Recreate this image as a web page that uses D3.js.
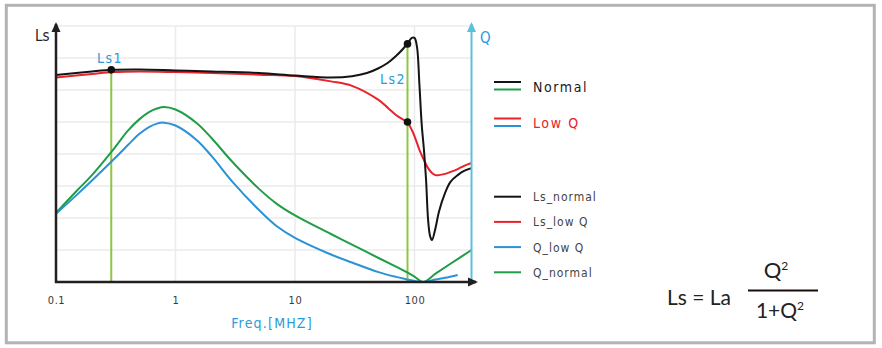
<!DOCTYPE html>
<html>
<head>
<meta charset="utf-8">
<script src="https://cdn.jsdelivr.net/npm/d3@7"></script>
<style>
  body { margin: 0; background: #fff; }
  svg { display: block; }
</style>
</head>
<body>
<div id="chart"></div>
<script>
// donnees (frequence en MHz, valeur en unites arbitraires)
const freqTicks = [0.1, 1, 10, 100];

const lsNormalFreq = [0.1, 0.2, 0.3, 0.5, 1, 2, 5, 10, 20, 30, 40, 50, 60, 70, 80, 87, 95, 100, 105, 110, 115, 120, 125, 130, 135, 140, 150, 160, 180, 200, 230, 260, 300];
const lsNormal     = [6.47, 6.58, 6.63, 6.64, 6.61, 6.58, 6.53, 6.45, 6.39, 6.43, 6.53, 6.68, 6.85, 7.06, 7.28, 7.44, 7.63, 7.63, 7.34, 6.16, 4.91, 4.13, 3.19, 1.94, 1.44, 1.31, 1.69, 2.19, 2.78, 3.13, 3.34, 3.47, 3.56];

const lsLowQFreq = [0.1, 0.2, 0.3, 0.5, 1, 2, 5, 10, 20, 30, 50, 60, 70, 80, 87, 95, 100, 110, 120, 130, 140, 150, 160, 180, 200, 230, 260, 300];
const lsLowQ     = [6.39, 6.5, 6.56, 6.58, 6.56, 6.53, 6.48, 6.44, 6.27, 6.13, 5.69, 5.44, 5.22, 5.08, 5.0, 4.75, 4.56, 4.13, 3.81, 3.56, 3.41, 3.34, 3.34, 3.38, 3.44, 3.53, 3.63, 3.72];

const qNormalFreq = [0.1, 0.15, 0.2, 0.3, 0.4, 0.5, 0.6, 0.7, 0.8, 1, 1.5, 2, 3, 5, 7, 10, 20, 30, 50, 70, 87, 100, 118, 150, 200, 300];
const qNormal     = [2.16, 2.86, 3.34, 4.13, 4.73, 5.09, 5.31, 5.42, 5.47, 5.39, 4.97, 4.5, 3.75, 2.91, 2.45, 2.08, 1.5, 1.17, 0.75, 0.48, 0.3, 0.17, 0.0, 0.26, 0.57, 1.0];

const qLowQFreq = [0.1, 0.15, 0.2, 0.3, 0.4, 0.5, 0.6, 0.7, 0.8, 1, 1.5, 2, 3, 5, 7, 10, 20, 30, 50, 70, 87, 100, 120, 150, 180, 230];
const qLowQ     = [2.13, 2.73, 3.17, 3.81, 4.28, 4.63, 4.84, 4.95, 4.98, 4.89, 4.44, 3.94, 3.13, 2.25, 1.75, 1.38, 0.86, 0.61, 0.31, 0.16, 0.08, 0.03, 0.0, 0.075, 0.13, 0.22];

// points Ls1 / Ls2
const markerNames = ["Ls1", "Ls2"];
const markerFreq  = [0.29, 87.4];
const markerTop   = [6.63, 7.44];
const dotFreq  = [0.29, 87.4, 87.4];
const dotValue = [6.63, 7.44, 5.0];

const legendTop    = ["Normal", "Low Q"];
const legendBottom = ["Ls_normal", "Ls_low Q", "Q_low Q", "Q_normal"];

const W = 882, H = 348;
const col = {
  black: "#141414", red: "#e8232b", blue: "#2a93d6", green: "#1f9e47",
  marker: "#8dc641", qaxis: "#5cc0dc", grid: "#ebebeb", text: "#3a3a3a", label: "#2a9ad9"
};
const font = "'DejaVu Sans Condensed', 'DejaVu Sans', sans-serif";

const svg = d3.select("#chart").append("svg")
  .attr("width", W).attr("height", H);

// cadre
svg.append("rect")
  .attr("x", 6.3).attr("y", 5.3).attr("width", 868).attr("height", 337.5)
  .attr("fill", "#fff").attr("stroke", "#b3b3b3").attr("stroke-width", 3);

const x = d3.scaleLog().domain([0.1, 300]).range([56, 471.5]);
const y = d3.scaleLinear().domain([0, 8]).range([282, 26]);

// grille
const grid = svg.append("g");
grid.selectAll("line.h").data(d3.range(1, 9)).join("line")
  .attr("x1", x(0.1)).attr("x2", x(300))
  .attr("y1", d => y(d)).attr("y2", d => y(d))
  .attr("stroke", col.grid).attr("stroke-width", 1.5);
grid.selectAll("line.v").data(freqTicks.slice(1)).join("line")
  .attr("x1", d => x(d)).attr("x2", d => x(d))
  .attr("y1", y(0)).attr("y2", y(8))
  .attr("stroke", col.grid).attr("stroke-width", 1.5);

// axe des x (ticks)
const xAxis = svg.append("g")
  .attr("transform", "translate(0," + y(0) + ")")
  .call(d3.axisBottom(x).tickValues(freqTicks).tickSize(0).tickPadding(14)
    .tickFormat(d => d < 1 ? "0.1" : d3.format("d")(d)));
xAxis.select(".domain").remove();
xAxis.selectAll("text")
  .style("font-family", font)
  .style("font-size", "11px").style("letter-spacing", "0.6px")
  .attr("fill", col.text);

svg.append("text").attr("x", 272).attr("y", 328).attr("text-anchor", "middle")
  .style("font-family", font)
  .style("font-size", "14px").style("letter-spacing", "1.2px")
  .attr("fill", col.label).text("Freq.[MHZ]");

// lignes verticales Ls1 / Ls2
svg.selectAll("line.mk").data(markerFreq).join("line")
  .attr("x1", d => x(d)).attr("x2", d => x(d))
  .attr("y1", (d, i) => y(markerTop[i])).attr("y2", y(0))
  .attr("stroke", col.marker).attr("stroke-width", 2);

// courbes
const line = d3.line()
  .x(d => x(d[0])).y(d => y(d[1]))
  .curve(d3.curveCatmullRom.alpha(0.5));

const series = [
  { f: qNormalFreq, v: qNormal, c: col.green },
  { f: qLowQFreq, v: qLowQ, c: col.blue },
  { f: lsLowQFreq, v: lsLowQ, c: col.red },
  { f: lsNormalFreq, v: lsNormal, c: col.black }
];
svg.append("g").selectAll("path").data(series).join("path")
  .attr("d", s => line(s.f.map((f, i) => [f, s.v[i]])))
  .attr("fill", "none").attr("stroke", s => s.c).attr("stroke-width", 2);

// points
svg.selectAll("circle").data(dotFreq).join("circle")
  .attr("cx", d => x(d)).attr("cy", (d, i) => y(dotValue[i]))
  .attr("r", 3.8).attr("fill", "#111");

// labels Ls1 / Ls2
const labelPos = [[110, 63], [393, 84]];
svg.selectAll("text.mk").data(markerNames).join("text")
  .attr("x", (d, i) => labelPos[i][0]).attr("y", (d, i) => labelPos[i][1])
  .attr("text-anchor", "middle")
  .style("font-family", font)
  .style("font-size", "14px").style("letter-spacing", "1.5px")
  .attr("fill", col.label).text(d => d);

// axes avec fleches
function arrow(x1, y1, x2, y2, color, w) {
  svg.append("line").attr("x1", x1).attr("y1", y1).attr("x2", x2).attr("y2", y2)
    .attr("stroke", color).attr("stroke-width", w);
  const a = Math.atan2(y2 - y1, x2 - x1), L = 10, hw = 4.5;
  const tip = [x2 + Math.cos(a) * 2, y2 + Math.sin(a) * 2];
  const base = [tip[0] - Math.cos(a) * L, tip[1] - Math.sin(a) * L];
  const p1 = [base[0] - Math.sin(a) * hw, base[1] + Math.cos(a) * hw];
  const p2 = [base[0] + Math.sin(a) * hw, base[1] - Math.cos(a) * hw];
  svg.append("path").attr("d", "M" + tip + "L" + p1 + "L" + p2 + "Z").attr("fill", color);
}
arrow(x(300), y(0), x(300), 24, col.qaxis, 2);
arrow(56, y(0) + 1, 56, 24, "#231f20", 2.5);
arrow(55, y(0), 476, y(0), "#231f20", 2.5);

svg.append("text").attr("x", 35).attr("y", 41)
  .style("font-family", font)
  .style("font-size", "15px").attr("fill", "#222").text("Ls");
svg.append("text").attr("x", 480).attr("y", 43)
  .style("font-family", font)
  .style("font-size", "15px").attr("fill", col.label).text("Q");

// legende du haut
const lt = svg.append("g");
const topRows = [[col.black, col.green, "#1a1a1a"], [col.red, col.blue, col.red]];
legendTop.forEach((name, i) => {
  const yy = 82 + i * 36.5;
  lt.append("line").attr("x1", 494).attr("x2", 521).attr("y1", yy).attr("y2", yy)
    .attr("stroke", topRows[i][0]).attr("stroke-width", 2);
  lt.append("line").attr("x1", 494).attr("x2", 521).attr("y1", yy + 7.5).attr("y2", yy + 7.5)
    .attr("stroke", topRows[i][1]).attr("stroke-width", 2);
  lt.append("text").attr("x", 533).attr("y", yy + 9.5)
    .style("font-family", font)
    .style("font-size", "14px").style("letter-spacing", "1.6px")
    .attr("fill", topRows[i][2]).text(name);
});

// legende du bas
const lbColors = [col.black, col.red, col.blue, col.green];
const lb = svg.append("g");
legendBottom.forEach((name, i) => {
  const yy = 196.7 + i * 25.2;
  lb.append("line").attr("x1", 494).attr("x2", 521).attr("y1", yy).attr("y2", yy)
    .attr("stroke", lbColors[i]).attr("stroke-width", 2);
  lb.append("text").attr("x", 533).attr("y", yy + 4.5)
    .style("font-family", font)
    .style("font-size", "12px").style("letter-spacing", "1px")
    .attr("fill", "#444").text(name);
});

// formule
const fm = svg.append("g")
  .style("font-family", "Lato, sans-serif").attr("fill", "#222");
fm.append("text").attr("x", 667).attr("y", 305).style("font-size", "21px").text("Ls = La");
fm.append("line").attr("x1", 748).attr("x2", 818).attr("y1", 290.5).attr("y2", 290.5)
  .attr("stroke", "#1a0c0c").attr("stroke-width", 1.8);
const num = fm.append("text").attr("x", 776).attr("y", 278).attr("text-anchor", "middle")
  .style("font-size", "22px");
num.append("tspan").text("Q");
num.append("tspan").attr("dy", -8).style("font-size", "12px").text("2");
const den = fm.append("text").attr("x", 780).attr("y", 318).attr("text-anchor", "middle")
  .style("font-size", "21px");
den.append("tspan").text("1+Q");
den.append("tspan").attr("dy", -8).style("font-size", "12px").text("2");
</script>
</body>
</html>
